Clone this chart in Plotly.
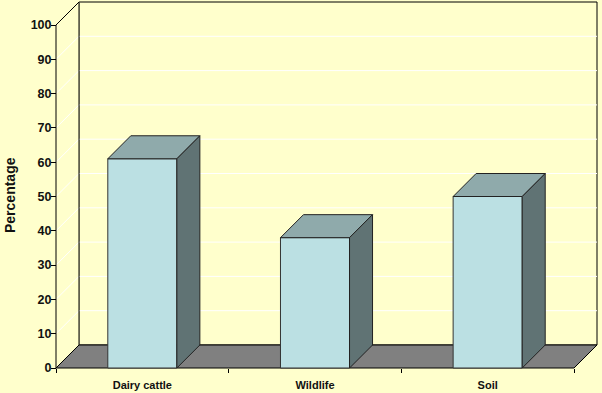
import plotly.graph_objects as go

# ---- data ----
categories = ["Dairy cattle", "Wildlife", "Soil"]
values = [61, 38, 50]
y_ticks = [0, 10, 20, 30, 40, 50, 60, 70, 80, 90, 100]

# ---- geometry (data units) ----
W, H = 602, 393
PX_X = 172.67          # pixels per category
PX_Y = 3.43            # pixels per percent
X0PX, Y0PX = 56, 368   # pixel position of (0,0)
DPX = 23               # 3-D depth in pixels
dx = DPX / PX_X
dy = DPX / PX_Y
ncat = len(categories)
ymax = 100

ML, MR, MT, MB = 40, 0, 0, 20
pw, ph = W - ML - MR, H - MT - MB
xr = [(ML - X0PX) / PX_X, (W - MR - X0PX) / PX_X]
yr = [(Y0PX - (H - MB)) / PX_Y, (Y0PX - MT) / PX_Y]

BG = "#FFFFCC"
FRONT = "#BBE0E3"
TOP = "#8FAAAB"
SIDE = "#607374"
FLOOR = "#808080"

fig = go.Figure()


def poly(xs, ys, fill, line="black", width=1):
    fig.add_trace(go.Scatter(
        x=list(xs) + [xs[0]], y=list(ys) + [ys[0]], mode="lines",
        fill="toself", fillcolor=fill,
        line=dict(color=line, width=width),
        hoverinfo="skip", showlegend=False))


def path(xs, ys, color="black", width=1):
    fig.add_trace(go.Scatter(
        x=xs, y=ys, mode="lines", line=dict(color=color, width=width),
        hoverinfo="skip", showlegend=False))


# back wall
poly([dx, ncat + dx, ncat + dx, dx], [dy, dy, ymax + dy, ymax + dy], BG)
# left wall
poly([0, dx, dx, 0], [0, dy, ymax + dy, ymax], BG, line=BG)

# gridlines
gx, gy = [], []
for v in y_ticks[1:-1]:
    gx += [0, dx, ncat + dx, None]
    gy += [v, v + dy, v + dy, None]
path(gx, gy, color="white", width=1)

# floor
poly([0, ncat, ncat + dx, dx], [0, 0, dy, dy], FLOOR)

# left wall edges / front value axis
path([0, 0, dx, dx], [0, ymax, ymax + dy, dy])

# bars
for i, v in enumerate(values):
    x1, x2 = i + 0.3, i + 0.7
    poly([x1, x2, x2, x1], [0, 0, v, v], FRONT, line="#333333")
    poly([x1, x2, x2 + dx, x1 + dx], [v, v, v + dy, v + dy], TOP, line="#222222")
    poly([x2, x2 + dx, x2 + dx, x2], [0, dy, v + dy, v], SIDE, line="#222222")

# invisible trace for tick axis
fig.add_trace(go.Scatter(x=[0], y=[0], xaxis="x2", mode="markers",
                         marker=dict(opacity=0), hoverinfo="skip", showlegend=False))

font = "Liberation Sans, Arial, sans-serif"
fig.update_layout(
    width=W, height=H,
    margin=dict(l=ML, r=MR, t=MT, b=MB, autoexpand=False),
    paper_bgcolor=BG, plot_bgcolor=BG,
    showlegend=False,
    xaxis=dict(range=xr, showgrid=False, zeroline=False, showline=False,
               tickvals=[i + 0.5 for i in range(ncat)], ticktext=categories,
               ticks="outside", ticklen=7, tickcolor="rgba(0,0,0,0)",
               tickfont=dict(family=font, size=11, color="#111111", weight="bold"),
               anchor="free", position=(H - MB - Y0PX) / ph, fixedrange=True),
    xaxis2=dict(range=xr, overlaying="x", showgrid=False, zeroline=False, showline=False,
                tickvals=list(range(ncat + 1)), ticks="outside", ticklen=4,
                tickcolor="black", showticklabels=False,
                anchor="free", position=(H - MB - Y0PX) / ph, fixedrange=True),
    yaxis=dict(range=yr, showgrid=False, zeroline=False, showline=False,
               tickvals=y_ticks, ticks="outside", ticklen=5, tickcolor="black",
               ticklabelstandoff=-3,
               tickfont=dict(family=font, size=12.5, color="#111111", weight="bold"),
               anchor="free", position=(X0PX - ML) / pw, fixedrange=True),
    annotations=[dict(text="Percentage", textangle=-90, xref="paper", yref="paper",
                      x=(10 - ML) / pw, y=(H - MB - 195) / ph, showarrow=False,
                      font=dict(family=font, size=14, color="#111111", weight="bold"),
                      xanchor="center", yanchor="middle")],
)

fig.write_html("out.html")
